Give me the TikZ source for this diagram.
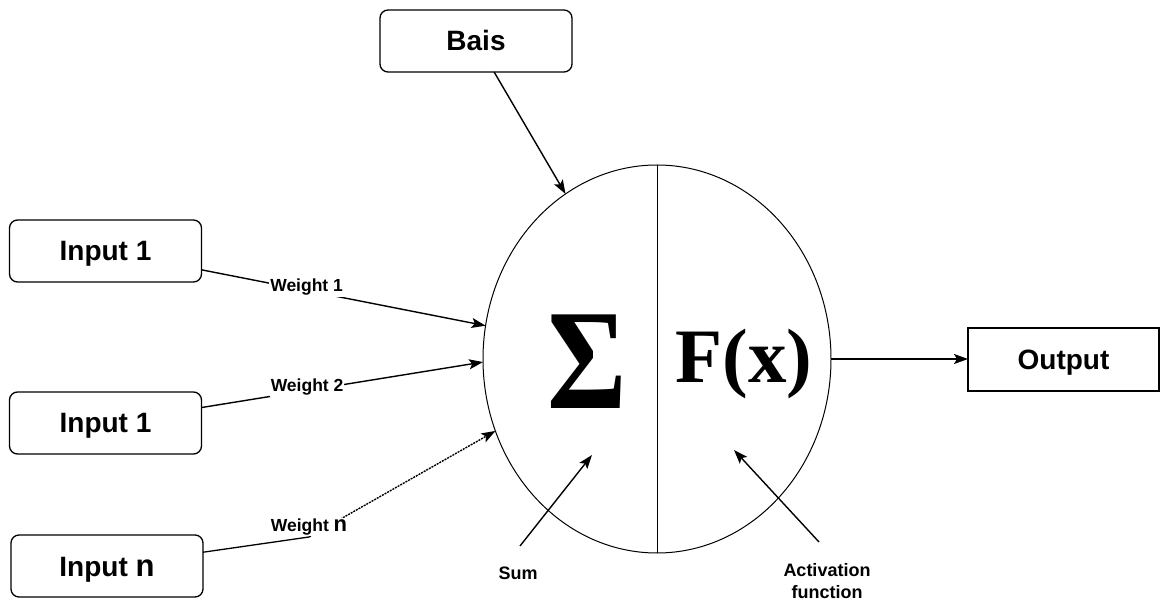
\documentclass[tikz,border=0pt]{standalone}
\usepackage{fontspec}
\setmainfont{Liberation Sans}
\newfontfamily\symserif{Liberation Serif}
\usetikzlibrary{shapes.geometric,arrows.meta}
\begin{document}
\begin{tikzpicture}[x=1pt,y=-1pt,
  box/.style={draw, line width=1.3pt, rounded corners=8pt, minimum width=192pt, minimum height=62pt,
    inner sep=0pt, outer sep=0pt, text height=20pt, text depth=0pt, font=\bfseries\fontsize{28}{30}\selectfont},
  sqbox/.style={box, rounded corners=0pt},
  conn/.style={line width=1.4pt, -{Stealth[length=14pt,width=10pt,inset=3pt]}},
  wlabel/.style={fill=white, inner sep=1pt, font=\bfseries\fontsize{17.5}{19}\selectfont},
  note/.style={font=\bfseries\fontsize{18}{22}\selectfont, align=center, inner sep=0pt}]
\useasboundingbox (0,0) rectangle (1160,601);

\node[box] (bais) at (476,41) {Bais};
\node[box] (in1) at (105.5,251) {Input 1};
\node[box] (in2) at (105.5,423) {Input 1};
\node[box] (inn) at (107,566) {Input {\fontsize{31}{31}\selectfont n}};
\node[sqbox, minimum width=191pt, minimum height=63pt] (out) at (1063.5,359.5) {Output};

\node[draw, ellipse, line width=1pt, minimum width=348pt, minimum height=388pt,
  inner sep=0pt, outer sep=0pt] (neuron) at (657,359) {};
\draw[line width=1pt] (neuron.north) -- (neuron.south);

\node (sigma) at (587,362) {\symserif\bfseries\scalebox{0.85}[1]{\fontsize{143}{143}\selectfont Σ}};
\node (fx) at (744,364) {\symserif\bfseries\fontsize{77}{80}\selectfont F(x)};

\draw[conn] (bais) -- (neuron.119.4);
\draw[conn] (in1) -- node[wlabel, pos=0.37, yshift=3pt] {Weight 1} (neuron.169.7);
\draw[conn] (in2) -- node[wlabel, pos=0.375, yshift=3pt] {Weight 2} (neuron.181.3);

\coordinate (wp) at (309,537);
\draw[line width=1.3pt] (inn) -- (wp);
\draw[conn, dash pattern=on 2pt off 1pt] (wp) -- (neuron.204.3);
\node[wlabel] (wn) at (309,527) {Weight {\fontsize{22}{22}\selectfont n}};

\draw[conn] (neuron.east) -- (neuron.east -| out.west);

\coordinate (sumtail) at (520,546);
\coordinate (sumhead) at (592,455);
\draw[conn] (sumtail) -- (sumhead);
\node[note] (sum) at (518,573) {Sum};

\coordinate (acttail) at (819,542);
\coordinate (acthead) at (734,450);
\draw[conn] (acttail) -- (acthead);
\node[note] (act) at (827,581) {Activation\\function};
\end{tikzpicture}
\end{document}
